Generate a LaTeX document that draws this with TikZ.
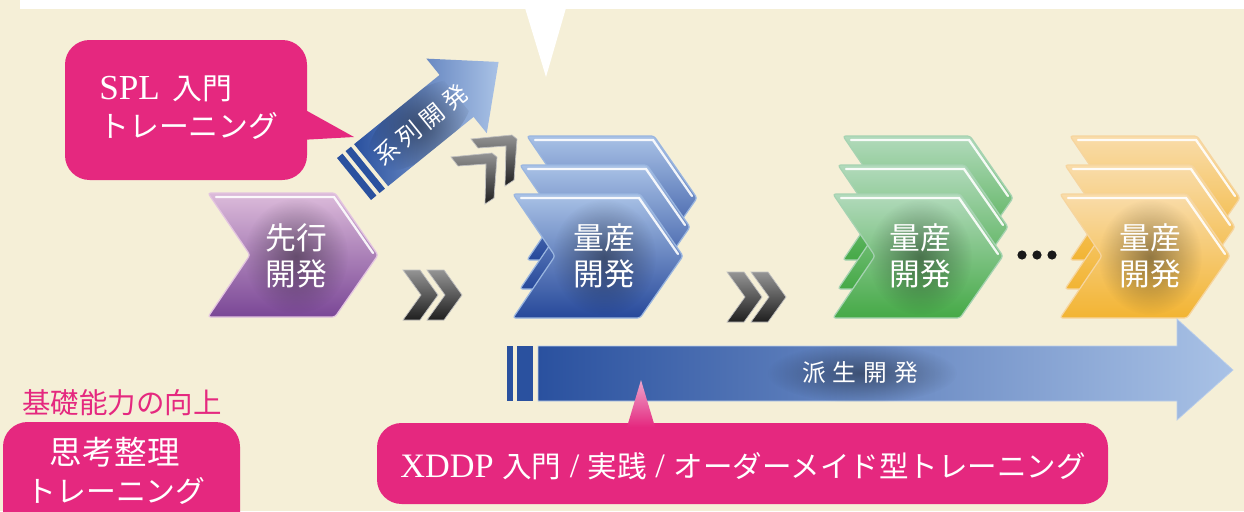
\documentclass[tikz,border=0pt]{standalone}
\usepackage{fontspec}
\setmainfont{Liberation Serif}
\newfontfamily\jp{Noto Sans CJK JP}
\usetikzlibrary{fadings}
\definecolor{bg}{HTML}{F5EFD7}
\definecolor{pk}{HTML}{E5287F}
\definecolor{pkl}{HTML}{EDA6CC}
\definecolor{bdark}{HTML}{2A519F}
\definecolor{blight}{HTML}{A9C2E6}
\definecolor{btop}{HTML}{A9C2E6}
\definecolor{bmid}{HTML}{8AA8DA}
\definecolor{bbot}{HTML}{26489A}
\definecolor{bedge}{HTML}{9AB6E0}
\definecolor{ptop}{HTML}{DCBBDA}
\definecolor{pmid}{HTML}{C49FC7}
\definecolor{pbot}{HTML}{7A4796}
\definecolor{pedge}{HTML}{E3C4E0}
\definecolor{gtop}{HTML}{B2DABC}
\definecolor{gmid}{HTML}{97CDA3}
\definecolor{gbot}{HTML}{45A946}
\definecolor{gedge}{HTML}{A6D3B2}
\definecolor{otop}{HTML}{F9DCAA}
\definecolor{omid}{HTML}{F7CF86}
\definecolor{obot}{HTML}{F2B432}
\definecolor{oedge}{HTML}{F6D59F}
\tikzfading[name=glow, inner color=transparent!0, outer color=transparent!100]
\tikzset{
  lbl/.style={text=white, inner sep=0pt, align=center},
  chevtext/.style={lbl, font=\jp\fontsize{17.5}{20.5}\selectfont},
  pinkbox/.style={fill=pk, rounded corners=14pt},
  halo/.style={fill=black, opacity=0.4, path fading=glow},
  dchevstyle/.style={top color=black!42, bottom color=black!88, draw=black!25, line width=0.4pt},
}
% chevron: x, y (top-left), top, middle, bottom, edge colour
\newcommand\chev[6]{%
  \shadedraw[top color=#3, middle color=#4, bottom color=#5, draw=#6, line width=0.7pt, rounded corners=1.5pt]
    (#1,#2) -- (#1+127,#2) -- (#1+170,#2+62) -- (#1+127,#2+124) -- (#1,#2+124) -- (#1+42,#2+62) -- cycle;
  \draw[white, line width=1.3pt, line cap=round, opacity=0.9] (#1+8,#2+4) -- (#1+126,#2+4) -- (#1+165,#2+60);}
% glow behind the text of a chevron: x, y (top-left), centre x
\newcommand\chevhalo[3]{%
  \begin{scope}
    \clip (#1,#2) -- (#1+127,#2) -- (#1+170,#2+62) -- (#1+127,#2+124) -- (#1,#2+124) -- (#1+42,#2+62) -- cycle;
    \fill[halo] (#3,#2+63) ellipse [x radius=52, y radius=58];
  \end{scope}}
% right-pointing dark chevron piece
\newcommand\dpiece[2]{%
  \shadedraw[dchevstyle] (#1,#2) -- (#1+17,#2) -- (#1+35,#2+25) -- (#1+17,#2+50) -- (#1,#2+50) -- (#1+18,#2+25) -- cycle;}
% up-right dark chevron piece
\newcommand\upiece[2]{%
  \shadedraw[dchevstyle] (#1,#2+4) -- (#1+41,#2) -- (#1+46,#2+4) -- (#1+43,#2+45) -- (#1+34,#2+51) -- (#1+35,#2+11) -- (#1+7,#2+13) -- cycle;}
\begin{document}
\begin{tikzpicture}[x=0.02cm, y=-0.02cm]
\useasboundingbox (0,0) rectangle (1244,511);
\clip (0,0) rectangle (1244,511);
\fill[bg] (0,0) rectangle (1244,511);
% top white band with pointer
\fill[white] (20,-2) rectangle (1244,9);
\fill[white] (525,8) -- (566,8) -- (546,77) -- cycle;

% SPL callout
\fill[pinkbox] (65,40) rectangle (307,180);
\fill[pk] (300,107) -- (354,137) -- (300,140) -- cycle;
\node[lbl, anchor=west] (spl1) at (99,89) {\fontsize{20}{23}\selectfont SPL\hspace{7pt}{\jp\fontsize{17}{20}\selectfont 入門}};
\node[lbl, anchor=west, font=\jp\fontsize{17}{20}\selectfont] (spl2) at (99,126) {トレーニング};

% series arrow
\begin{scope}[shift={(354,179)}, rotate=39]
  \fill[bdark] (0,-27) rectangle (7,27);
  \fill[bdark] (11,-27) rectangle (18,27);
  \shade[left color=bdark, right color=blight] (22,-27) -- (132,-27) -- (132,-48) -- (186,0) -- (132,48) -- (132,27) -- (22,27) -- cycle;
  \begin{scope}
    \clip (22,-27) rectangle (132,27);
    \fill[halo] (85,0) ellipse [x radius=62, y radius=30];
  \end{scope}
  \node[lbl, rotate=39, font=\jp\fontsize{13.5}{16}\selectfont] (kei) at (86,0) {系\hspace{3pt}列\hspace{3pt}開\hspace{3pt}発};
\end{scope}

% up-right double chevron
\upiece{471}{135}
\upiece{451}{153}

% precursor chevron
\chev{208}{193}{ptop}{pmid}{pbot}{pedge}
\chevhalo{208}{193}{296}
\node[chevtext] (pre) at (296,256) {先行\\開発};

% >>
\dpiece{403}{270}
\dpiece{427}{270}
\dpiece{727}{272}
\dpiece{751}{272}

% blue stack
\chev{527}{136}{btop}{bmid}{bbot}{bedge}
\chev{520}{165}{btop}{bmid}{bbot}{bedge}
\chev{513}{194}{btop}{bmid}{bbot}{bedge}
\chevhalo{513}{194}{604}
\node[chevtext] (m1) at (604,256) {量産\\開発};

% green stack
\chev{843}{136}{gtop}{gmid}{gbot}{gedge}
\chev{838}{165}{gtop}{gmid}{gbot}{gedge}
\chev{833}{194}{gtop}{gmid}{gbot}{gedge}
\chevhalo{833}{194}{920}
\node[chevtext] (m2) at (920,256) {量産\\開発};

% dots
\fill[black!90] (1022,255) circle [radius=4.6];
\fill[black!90] (1037,255) circle [radius=4.6];
\fill[black!90] (1052,255) circle [radius=4.6];

% orange stack
\chev{1070}{136}{otop}{omid}{obot}{oedge}
\chev{1065}{165}{otop}{omid}{obot}{oedge}
\chev{1060}{194}{otop}{omid}{obot}{oedge}
\chevhalo{1060}{194}{1150}
\node[chevtext] (m3) at (1150,256) {量産\\開発};

% derivative arrow
\fill[bdark] (507,346) rectangle (513,401);
\fill[bdark] (517,346) rectangle (533,401);
\shadedraw[left color=bdark, right color=blight, draw=blight!80!white, line width=0.4pt] (538,346) -- (1177,346) -- (1177,319) -- (1233,370) -- (1177,420) -- (1177,401) -- (538,401) -- cycle;
\begin{scope}
  \clip (538,346) rectangle (1177,401);
  \fill[halo] (862,373) ellipse [x radius=95, y radius=30];
\end{scope}
\node[lbl, font=\jp\fontsize{13.5}{16}\selectfont] (hasei) at (860,373) {派\hspace{4pt}生\hspace{4pt}開\hspace{4pt}発};

% XDDP callout
\fill[pinkbox] (377,423) rectangle (1108,504);
\shade[top color=pkl, bottom color=pk] (627,427) -- (641,380) -- (655,427) -- cycle;
\node[lbl, anchor=base] (xddp) at (743,477) {\fontsize{19.5}{23}\selectfont XDDP {\jp\fontsize{16.8}{20}\selectfont 入門} / {\jp\fontsize{16.8}{20}\selectfont 実践} / {\jp\fontsize{16.8}{20}\selectfont オーダーメイド型トレーニング}};

% basic skills
\node[inner sep=0pt, text=pk, font=\jp\fontsize{16.2}{19}\selectfont] (kiso) at (122,403) {基礎能力の向上};
\fill[pinkbox] (3,422) rectangle (240,540);
\node[lbl, font=\jp\fontsize{18.5}{22}\selectfont] (shiko) at (115,452) {思考整理};
\node[lbl, font=\jp\fontsize{17}{20}\selectfont] (tr2) at (116,491) {トレーニング};
\end{tikzpicture}
\end{document}
